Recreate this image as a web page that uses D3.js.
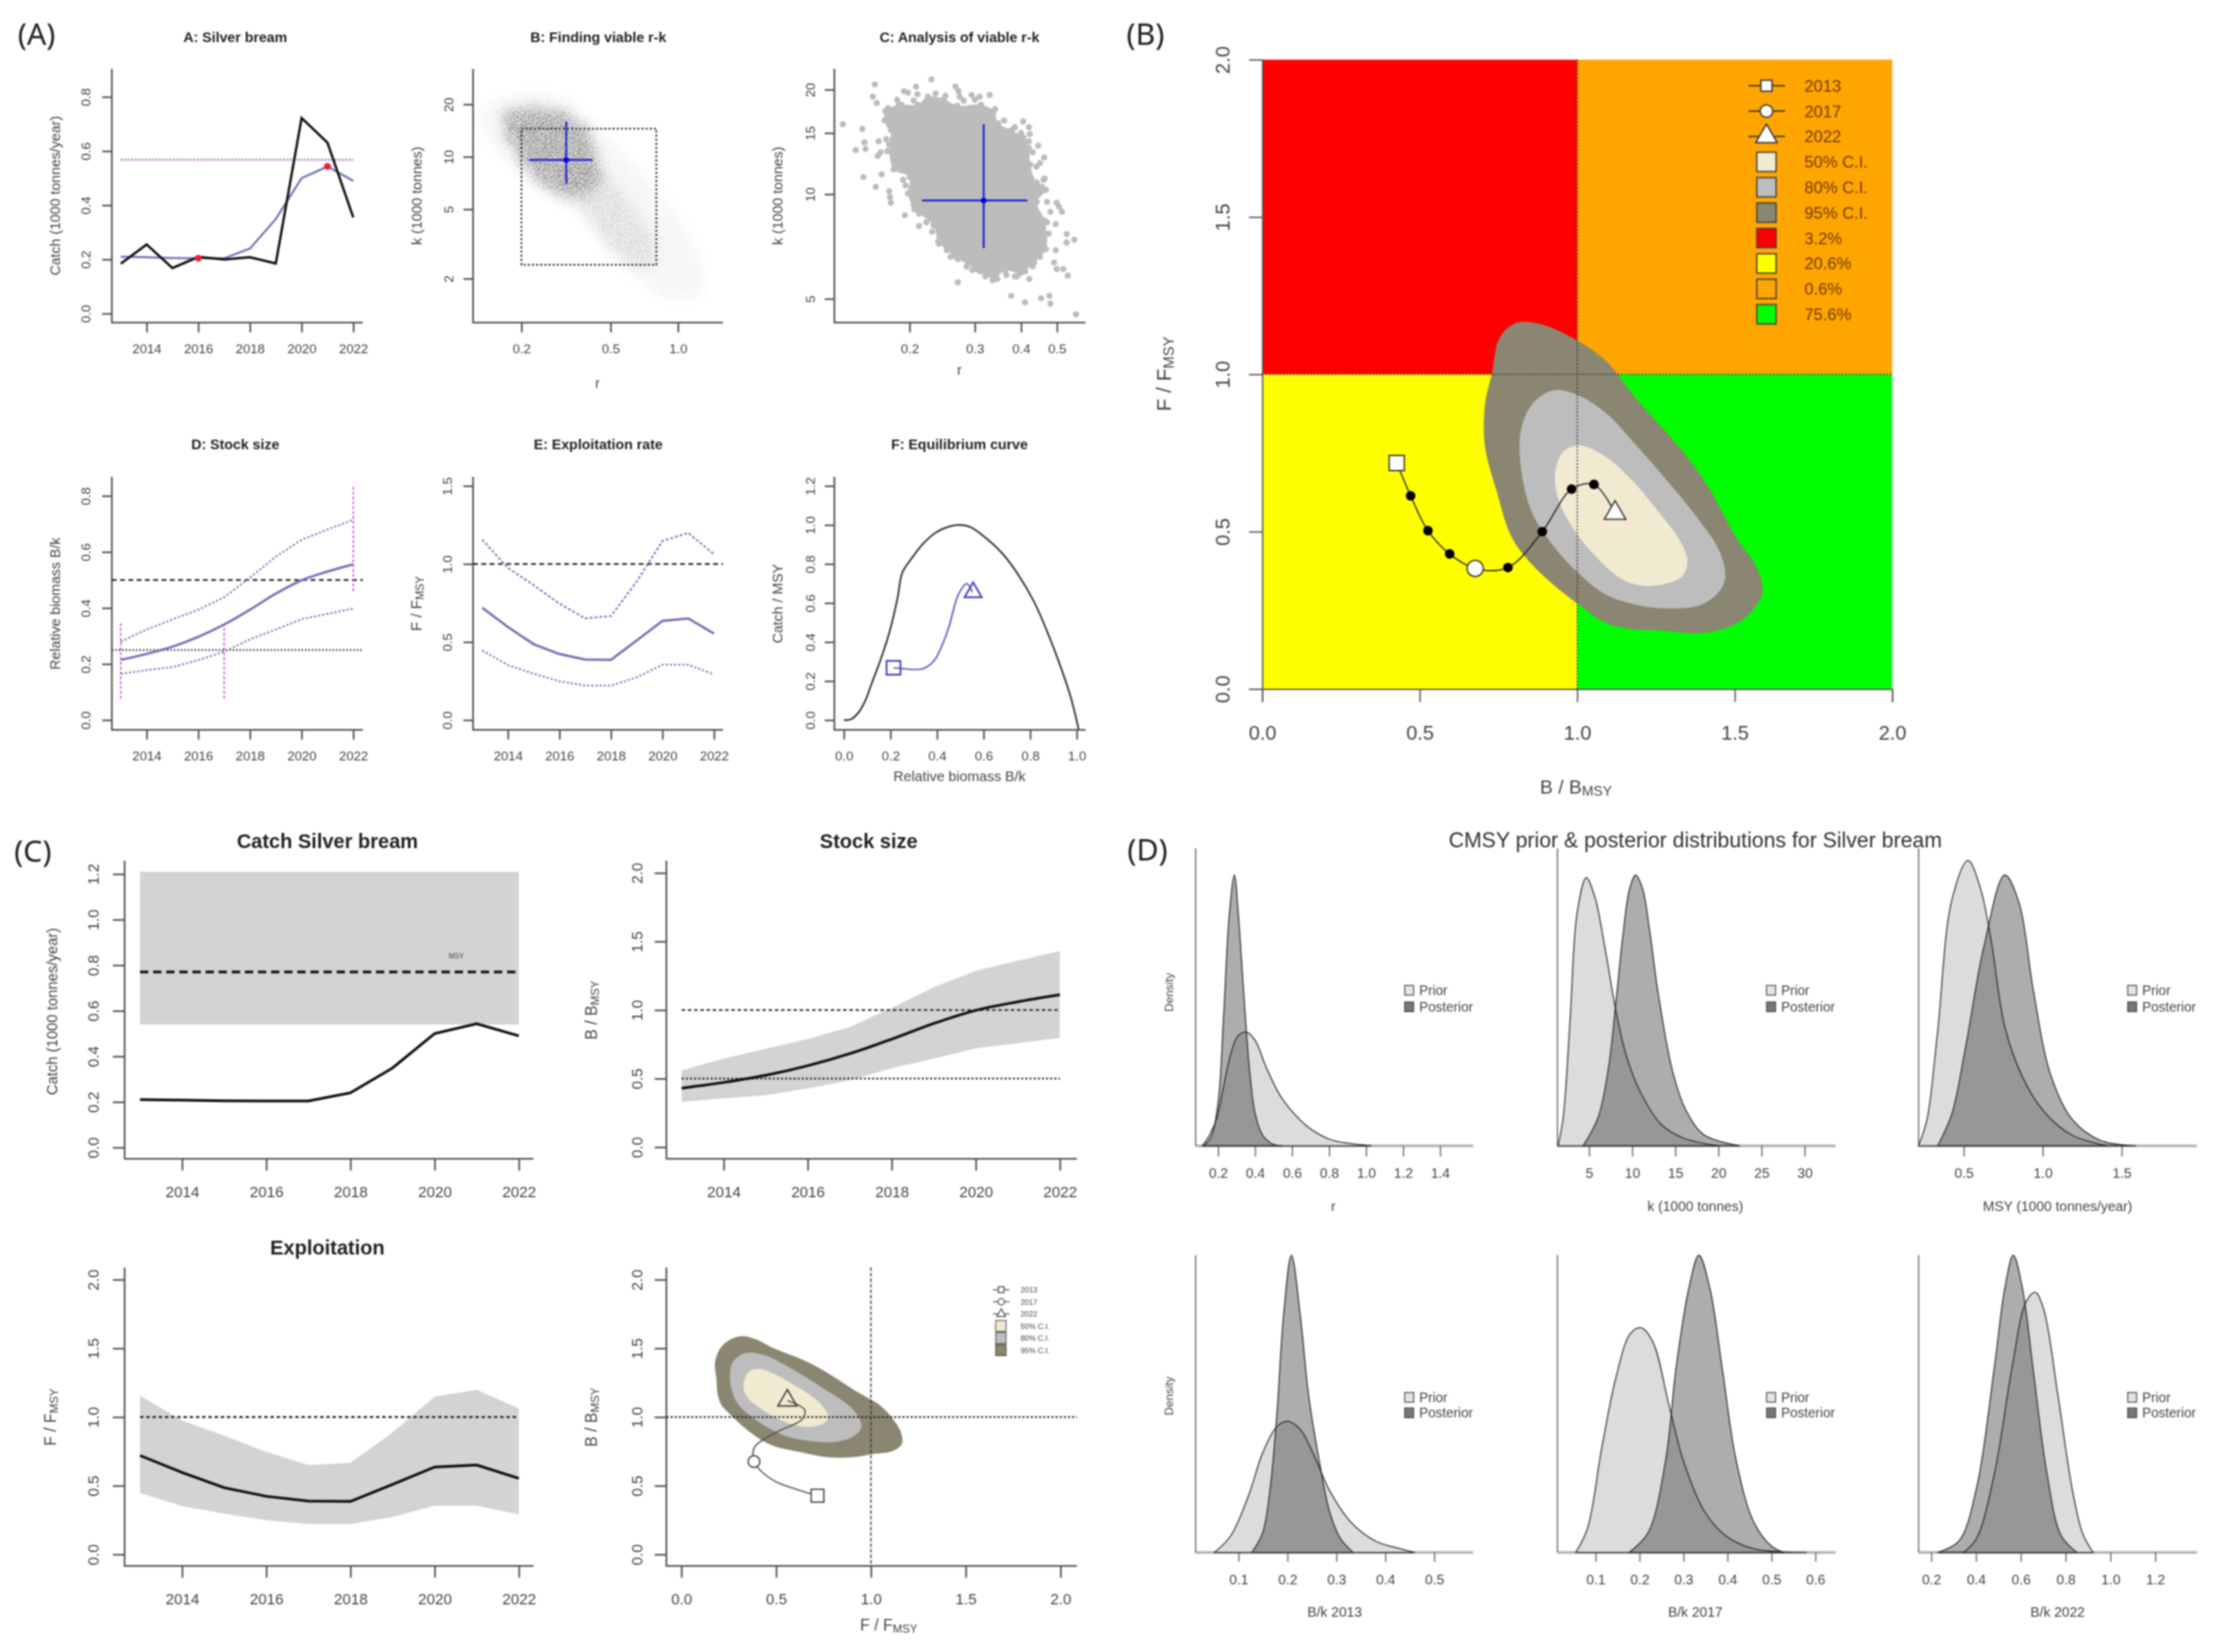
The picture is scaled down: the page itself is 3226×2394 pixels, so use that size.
<!DOCTYPE html>
<meta charset="utf-8">
<style>
	html, body { margin: 0; background: #fff; }
	svg { display: block; filter: blur(0.9px); }
	text { font-family: "Liberation Sans", Arial, sans-serif; fill: #444; }
	.title { font-weight: bold; fill: #222; }
	.tag { font-family: "Noto Sans", sans-serif; fill: #222; }
</style>
<body>
<script src="https://d3js.org/d3.v7.min.js"></script>
<script>

	// time series
	var years = [2013, 2014, 2015, 2016, 2017, 2018, 2019, 2020, 2021, 2022];
	var yearTicks = [2014, 2016, 2018, 2020, 2022];
	var catchObs = [.184, .255, .168, .209, .2, .208, .185, .722, .631, .355];
	var catchSmooth = [.21, .208, .205, .204, .204, .24, .349, .5, .543, .49];
	var bkMid = [.215, .236, .262, .297, .341, .394, .451, .499, .53, .556];
	var bkHi = [.28, .323, .359, .394, .438, .508, .583, .643, .68, .715];
	var bkLo = [.165, .178, .189, .214, .244, .288, .323, .36, .379, .398];
	var fMid = [.72, .596, .486, .423, .388, .386, .51, .636, .651, .554];
	var fHi = [1.156, .975, .864, .746, .651, .667, .888, 1.148, 1.199, 1.062];
	var fLo = [.446, .352, .297, .249, .221, .221, .273, .355, .355, .292];
	var bBmsyMid = [.43, .472, .524, .594, .682, .788, .902, .998, 1.06, 1.112];
	var bBmsyHi = [.56, .646, .718, .788, .876, 1.016, 1.166, 1.286, 1.36, 1.43];
	var bBmsyLo = [.33, .356, .378, .428, .488, .576, .646, .72, .758, .796];

	var maxCatch = .568, msy = .77, msyLow = .54, msyHigh = 1.21;
	var pinkBars = [[2013, .077, .347], [2017, .077, .34], [2022, .46, .833]];

	// equilibrium curve
	var eqB = [0, .03, .065, .094, .117, .157, .196, .23, .251, .293, .339, .395, .452, .497, .542, .61, .678, .746, .815, .871, .928, .974, 1.008];
	var eqC = [0, .004, .042, .105, .18, .307, .452, .623, .756, .832, .902, .961, .992, 1, .99, .933, .857, .75, .61, .459, .282, .118, -.047];
	var trajBk = [.213, .247, .304, .344, .389, .446, .491, .528, .552];
	var trajC = [.268, .265, .259, .265, .307, .459, .642, .699, .655];

	// Kobe trajectory and the confidence contours
	var kobeB = [.427, .471, .526, .595, .676, .78, .889, .982, 1.053, 1.12];
	var kobeF = [.718, .614, .503, .429, .383, .386, .5, .635, .65, .559];
	var ci95B = [.805, .889, .997, 1.09, 1.19, 1.308, 1.408, 1.509, 1.567, 1.588, 1.551, 1.492, 1.392, 1.274, 1.174, 1.09, 1.006, .922, .838, .788, .746, .707, .707, .729, .754];
	var ci95F = [1.163, 1.158, 1.109, 1.043, .919, .787, .655, .474, .391, .309, .243, .201, .177, .185, .19, .21, .267, .333, .416, .49, .622, .771, .903, 1.002, 1.117];
	var ci80B = [.922, .997, 1.09, 1.19, 1.291, 1.391, 1.45, 1.47, 1.45, 1.391, 1.291, 1.19, 1.09, 1.006, .922, .855, .821, .821, .855];
	var ci80F = [.949, .936, .878, .771, .655, .531, .441, .358, .309, .267, .256, .267, .3, .366, .457, .564, .705, .82, .903];
	var ci50B = [1.006, 1.09, 1.174, 1.257, 1.324, 1.35, 1.333, 1.274, 1.207, 1.14, 1.056, .989, .939, .93, .956];
	var ci50F = [.774, .738, .663, .564, .474, .408, .358, .333, .328, .35, .424, .507, .606, .688, .754];
	var kobeFills = ["#ff0000", "#ffa500", "#ffff00", "#00ff00"];
	var ciFills = ["#f2ead0", "#bdbdbd", "#8b8671"];
	var kobeLegend = ["2013", "2017", "2022", "50% C.I.", "80% C.I.", "95% C.I.", "3.2%", "20.6%", "0.6%", "75.6%"];
	var legendFills = ["#f2ead0", "#bdbdbd", "#8b8671", "#ff0000", "#ffff00", "#ffa500", "#00ff00"];

	// r-k cloud outline and the stray points around it
	var cloudR = [.172, .187, .21, .224, .247, .269, .312, .338, .347, .377, .406, .42, .423, .441, .467, .441, .463, .467, .434, .399, .362, .338, .302, .264, .239, .232, .206, .198, .2, .181, .176, .178, .171];
	var cloudK = [17.35, 18.1, 18.1, 19.1, 18.8, 18, 18.1, 17.35, 16, 15.3, 14.55, 13.6, 12.2, 10.8, 10.3, 9.5, 8.4, 6.95, 6.36, 5.93, 6.03, 5.72, 6.09, 6.65, 7.32, 8.14, 9.05, 10.05, 11.2, 11.8, 13.9, 15.3, 16.3];
	var strayR = [.132, .149, .143, .151, .152, .15, .162, .161, .159, .163, .165, .164, .167, .174, .168, .176, .177, .178, .194, .212, .229, .208, .21, .193, .198, .185, .266, .271, .273, .294, .309, .329, .405, .42, .422, .445, .462, .45, .463, .499, .507, .516, .496, .496, .491, .499, .52, .535, .531, .531, .557, .421, .385, .27, .376, .41, .453, .477, .48, .563];
	var strayK = [15.9, 15.4, 13.4, 14.1, 13.5, 11.2, 10.5, 20.7, 19.1, 18.3, 14.2, 12.9, 13.2, 13.3, 11.4, 10.2, 9.8, 9.45, 8.7, 8.1, 21.4, 20.4, 19.4, 19.8, 19.6, 18.7, 20.4, 19.8, 19.1, 19.3, 19.1, 19.3, 16.2, 15.6, 14.9, 13.8, 12.75, 12.3, 11.1, 9.45, 9.2, 8.9, 8.2, 6.9, 6.36, 6.09, 6.09, 5.83, 7.68, 7.26, 7.4, 5.7, 5.8, 5.58, 5.1, 4.88, 5.02, 5.1, 4.84, 4.51];
	var edgeR = [.176, .182, .173, .18, .187, .19, .192, .195, .2, .205, .212, .222, .23, .24, .252, .258, .27, .285, .295, .31, .32, .335, .345, .365, .39, .41, .43, .45, .46, .475, .47, .48, .47, .455, .46, .44, .43, .42, .4, .385, .36, .34, .3, .28, .25, .235, .205, .19, .175];
	var edgeK = [15.8, 14.8, 14.4, 13.2, 12.6, 12.1, 11, 10.6, 10.1, 9.3, 8.8, 8.3, 7.8, 7.2, 6.9, 6.6, 6.5, 6.2, 6.05, 6, 5.8, 5.65, 5.7, 5.85, 5.8, 6, 6.2, 6.6, 7.2, 7.7, 8.3, 8.9, 9.5, 10.5, 11, 12, 13.2, 14.2, 15, 15.6, 16.3, 17.6, 18.7, 18.6, 19.2, 19.5, 18.6, 18.1, 17.7];
	var faintR = [.13, .17, .3, .45, .7, 1, 1.3, 1.25, .85, .6, .42, .28, .2, .15];
	var faintK = [17, 22, 22, 14, 8, 4.5, 2.2, 1.6, 1.6, 2.3, 4, 6, 8, 12];
	var midR = [.35, .45, .6, .8, .72, .52, .4, .32];
	var midK = [9, 8.5, 5.5, 3, 2.3, 2.8, 4.5, 6.5];
	var viable = {rMin: .2, rMax: .8, kMin: 2.4, kMax: 14.5};
	var best = {r: .317, rLo: .216, rHi: .416, k: 9.6, kLo: 7, kHi: 15.9};

	// prior & posterior densities, heights relative to the tallest posterior
	var rPriorX = [.116, .154, .192, .23, .269, .307, .353, .4, .46, .536, .613, .689, .804, .918, 1.03];
	var rPriorH = [0, .04, .1, .22, .34, .405, .42, .39, .29, .185, .117, .068, .024, .008, 0];
	var rPostX = [.12, .16, .2, .23, .26, .288, .31, .34, .37, .4, .44, .5, .55];
	var rPostH = [0, .03, .16, .48, .85, 1, .85, .55, .28, .12, .04, .005, 0];
	var kPriorX = [1.4, 2, 2.8, 3.6, 4.67, 5.66, 6.9, 8.1, 9.34, 11, 13.4, 15.9, 20];
	var kPriorH = [0, .107, .468, .858, .99, .92, .72, .5, .33, .195, .078, .029, 0];
	var kPostX = [4.3, 6.07, 7.3, 8.1, 8.93, 9.7, 10.4, 11.2, 12, 13, 14.7, 16.3, 18.4, 22.5];
	var kPostH = [0, .107, .3, .527, .78, .95, 1, .95, .8, .566, .273, .127, .039, 0];
	var msyPriorX = [.213, .267, .334, .424, .527, .603, .67, .76, .872, 1.007, 1.186, 1.41];
	var msyPriorH = [0, .098, .42, .907, 1.054, .956, .77, .439, .254, .127, .039, 0];
	var msyPostX = [.334, .424, .513, .626, .76, .85, .94, 1.05, 1.186, 1.365, 1.59];
	var msyPostH = [0, .117, .37, .732, 1, .898, .576, .263, .098, .02, 0];
	var b13PriorX = [.051, .084, .12, .149, .178, .2, .226, .257, .286, .33, .38, .431, .46];
	var b13PriorH = [0, .056, .19, .334, .423, .441, .414, .316, .208, .101, .038, .012, 0];
	var b13PostX = [.127, .149, .164, .178, .192, .208, .226, .243, .265, .286, .308, .334];
	var b13PostH = [0, .065, .208, .459, .799, 1, .799, .53, .307, .137, .047, 0];
	var b17PriorX = [.055, .082, .114, .147, .179, .203, .23, .267, .3, .348, .396, .46, .58];
	var b17PriorH = [0, .083, .352, .593, .736, .756, .709, .495, .307, .137, .056, .012, 0];
	var b17PostX = [.176, .219, .259, .283, .312, .335, .36, .388, .42, .46, .5, .528];
	var b17PostH = [0, .065, .307, .62, .888, 1, .888, .62, .307, .101, .021, 0];
	var b22PriorX = [.345, .402, .481, .56, .623, .664, .702, .765, .828, .875, .922];
	var b22PriorH = [0, .047, .262, .62, .843, .875, .817, .53, .217, .065, 0];
	var b22PostX = [.228, .323, .402, .481, .528, .566, .607, .654, .717, .78, .85];
	var b22PostH = [0, .038, .217, .62, .888, 1, .888, .62, .262, .056, 0];

	var purple = "#7a70b8", axisCol = "#555", f1 = d3.format(".1f");

	var svg = d3.select("body").append("svg")
		.attr("width", 3226)
		.attr("height", 2394);

	var defs = svg.append("defs");
	var grain = defs.append("filter").attr("id", "grain")
		.attr("x", "-20%").attr("y", "-20%").attr("width", "140%").attr("height", "140%");
	grain.append("feGaussianBlur").attr("in", "SourceGraphic").attr("stdDeviation", 9).attr("result", "b");
	grain.append("feTurbulence").attr("type", "fractalNoise").attr("baseFrequency", .7).attr("numOctaves", 2).attr("result", "n");
	grain.append("feColorMatrix").attr("in", "n").attr("type", "matrix")
		.attr("values", "0 0 0 0 0  0 0 0 0 0  0 0 0 0 0  0 0 0 6 -2.4").attr("result", "t");
	grain.append("feComposite").attr("in", "b").attr("in2", "t").attr("operator", "in");

	svg.append("rect").attr("width", 3226).attr("height", 2394).attr("fill", "#fff");

	function zip(a, b) { return a.map(function(d, i) { return [d, b[i]]; }); }

	function label(text, x, y, size, rotate, cls) {
		var t = svg.append("text")
			.attr("text-anchor", "middle")
			.attr("dominant-baseline", "central")
			.attr("font-size", size)
			.attr("transform", "translate(" + x + "," + y + ")" + (rotate ? " rotate(-90)" : ""))
			.attr("class", cls || null);
		// "F/F_MSY" style labels pass [main, subscript]
		if (typeof text === "string") t.text(text);
		else {
			t.append("tspan").text(text[0]);
			t.append("tspan").attr("font-size", size * .72).attr("dy", size * .22).text(text[1]);
		}
		return t;
	}

	// R style "l" box with rotated y tick labels
	function axes(box, x, y, xTicks, yTicks, o) {
		var gx = svg.append("g")
			.attr("transform", "translate(0," + box.bottom + ")")
			.call(d3.axisBottom(x).tickValues(xTicks).tickSize(o.tick).tickFormat(o.xf));
		var gy = svg.append("g")
			.attr("transform", "translate(" + box.left + ",0)")
			.call(d3.axisLeft(y).tickValues(yTicks).tickSize(o.tick).tickFormat(o.yf));
		gx.select(".domain").remove();
		gy.select(".domain").remove();
		[gx, gy].forEach(function(g) {
			g.selectAll("line").attr("stroke", axisCol).attr("stroke-width", o.width || 2.5);
			g.selectAll("text").attr("font-size", o.font).attr("dy", 0).attr("dominant-baseline", "central").attr("fill", "#444");
		});
		gx.selectAll("text").attr("y", o.xGap);
		gy.selectAll("text").attr("x", 0).attr("text-anchor", "middle")
			.attr("transform", "translate(" + (-o.yGap) + ",0) rotate(-90)");
		svg.append("path")
			.attr("d", "M" + box.left + "," + box.top + "V" + box.bottom + "H" + box.right)
			.attr("fill", "none").attr("stroke", axisCol).attr("stroke-width", o.width || 2.5);
	}

	function curve(xs, ys, x, y, col, w, dash, gen) {
		return svg.append("path")
			.attr("d", d3.line().x(function(d) { return x(d[0]); }).y(function(d) { return y(d[1]); })
				.curve(gen || d3.curveLinear)(zip(xs, ys)))
			.attr("fill", "none")
			.attr("stroke", col)
			.attr("stroke-width", w)
			.attr("stroke-dasharray", dash || null);
	}

	function hline(v, box, y, col, w, dash) {
		svg.append("line").attr("x1", box.left).attr("x2", box.right).attr("y1", y(v)).attr("y2", y(v))
			.attr("stroke", col).attr("stroke-width", w).attr("stroke-dasharray", dash);
	}

	function band(hi, lo, x, y, col) {
		svg.append("path")
			.attr("d", d3.area().x(function(d, i) { return x(years[i]); })
				.y0(function(d, i) { return y(lo[i]); }).y1(function(d) { return y(d); })(hi))
			.attr("fill", col);
	}

	function marker(type, px, py, area, fill, stroke, w) {
		svg.append("path")
			.attr("d", d3.symbol().type(type).size(area)())
			.attr("transform", "translate(" + px + "," + py + ")")
			.attr("fill", fill).attr("stroke", stroke).attr("stroke-width", w);
	}

	function blob(xs, ys, x, y, fill) {
		return svg.append("path")
			.attr("d", d3.line().x(function(d) { return x(d[0]); }).y(function(d) { return y(d[1]); })
				.curve(d3.curveCatmullRomClosed.alpha(.5))(zip(xs, ys)))
			.attr("fill", fill);
	}

	/* ---------- (A) six small panels ---------- */
	var colLeft = [162.1, 685.6, 1209.2], colRight = [525.9, 1047.8, 1573.3];
	var rowA = {top: 99.8, bottom: 467.6}, rowB = {top: 691, bottom: 1057.7};
	var smallOpts = {tick: 14, font: 19, xGap: 37.5, yGap: 37.5, xf: d3.format("d"), yf: f1};

	function boxOf(c, row) { return {left: colLeft[c], right: colRight[c], top: row.top, bottom: row.bottom}; }

	label("(A)", 53, 48, 44, false, "tag");
	label("(B)", 1660, 48, 44, false, "tag");
	label("(C)", 47.5, 1232, 44, false, "tag");
	label("(D)", 1663, 1230, 44, false, "tag");

	// A: catch
	var boxA = boxOf(0, rowA);
	var xA = d3.scaleLinear().domain([2014, 2022]).range([212.5, 512]);
	var yA = d3.scaleLinear().domain([0, .8]).range([454.4, 140.4]);
	label("A: Silver bream", 341, 53.4, 20.5, false, "title");
	axes(boxA, xA, yA, yearTicks, [0, .2, .4, .6, .8], smallOpts);
	label("Catch (1000 tonnes/year)", 79, 283.7, 20.5, true);
	svg.append("line").attr("x1", xA(2013)).attr("x2", xA(2022)).attr("y1", yA(maxCatch)).attr("y2", yA(maxCatch))
		.attr("stroke", "#c78fd0").attr("stroke-width", 3.5).attr("stroke-dasharray", "3 2");
	curve(years, catchSmooth, xA, yA, purple, 3);
	curve(years, catchObs, xA, yA, "#111", 3.5);
	[3, 8].forEach(function(i) {
		svg.append("circle").attr("cx", xA(years[i])).attr("cy", yA(catchSmooth[i])).attr("r", 5).attr("fill", "#f0203a");
	});

	// B: finding viable r-k
	var boxB = boxOf(1, rowA);
	var xB = d3.scaleLog().domain([.2, 1]).range([755.7, 982.6]);
	var yB = d3.scaleLog().domain([2, 20]).range([403.8, 151.2]);
	label("B: Finding viable r-k", 867, 53.4, 20.5, false, "title");
	blob(faintR, faintK, xB, yB, "#e6e6e6").attr("filter", "url(#grain)").attr("opacity", .6);
	blob(midR, midK, xB, yB, "#c8c8c8").attr("filter", "url(#grain)").attr("opacity", .75);
	blob(cloudR.map(function(d) { return d * .96; }), cloudK.map(function(d) { return d * 1.02; }), xB, yB, "#848484")
		.attr("filter", "url(#grain)");
	axes(boxB, xB, yB, [.2, .5, 1], [2, 5, 10, 20],
		{tick: 14, font: 19, xGap: 37.5, yGap: 35, xf: f1, yf: d3.format("d")});
	label("k (1000 tonnes)", 603, 283.7, 20.5, true);
	label("r", 866, 554.5, 20.5);
	svg.append("rect")
		.attr("x", xB(viable.rMin)).attr("y", yB(viable.kMax))
		.attr("width", xB(viable.rMax) - xB(viable.rMin)).attr("height", yB(viable.kMin) - yB(viable.kMax))
		.attr("fill", "none").attr("stroke", "#333").attr("stroke-width", 2.5).attr("stroke-dasharray", "3 3");

	function cross(x, y, w, r) {
		svg.append("line").attr("x1", x(best.rLo)).attr("x2", x(best.rHi)).attr("y1", y(best.k)).attr("y2", y(best.k))
			.attr("stroke", "#2a2ad0").attr("stroke-width", w);
		svg.append("line").attr("x1", x(best.r)).attr("x2", x(best.r)).attr("y1", y(best.kLo)).attr("y2", y(best.kHi))
			.attr("stroke", "#2a2ad0").attr("stroke-width", w);
		svg.append("circle").attr("cx", x(best.r)).attr("cy", y(best.k)).attr("r", r).attr("fill", "#0000e0");
	}
	cross(xB, yB, 3, 4);

	// C: analysis of viable r-k
	var boxC = boxOf(2, rowA);
	var xC = d3.scaleLog().domain([.2, .5]).range([1318.3, 1531.8]);
	var yC = d3.scaleLog().domain([5, 20]).range([433, 129.9]);
	label("C: Analysis of viable r-k", 1390.5, 53.4, 20.5, false, "title");
	blob(cloudR, cloudK, xC, yC, "#bcbcbc");
	svg.append("g").selectAll("circle")
		.data(zip(cloudR.concat(strayR, edgeR), cloudK.concat(strayK, edgeK)))
		.enter().append("circle")
		.attr("cx", function(d) { return xC(d[0]); })
		.attr("cy", function(d) { return yC(d[1]); })
		.attr("r", 4.5)
		.attr("fill", "#bcbcbc");
	axes(boxC, xC, yC, [.2, .3, .4, .5], [5, 10, 15, 20],
		{tick: 14, font: 19, xGap: 37.5, yGap: 35, xf: f1, yf: d3.format("d")});
	label("k (1000 tonnes)", 1126.5, 283.7, 20.5, true);
	label("r", 1390.5, 535.8, 20.5);
	cross(xC, yC, 3, 4);

	// D: stock size
	var boxD = boxOf(0, rowB);
	var yD = d3.scaleLinear().domain([0, .8]).range([1043.5, 718.6]);
	label("D: Stock size", 341, 643.5, 20.5, false, "title");
	axes(boxD, xA, yD, yearTicks, [0, .2, .4, .6, .8], smallOpts);
	label("Relative biomass B/k", 79, 874.8, 20.5, true);
	hline(.5, boxD, yD, "#222", 2.5, "7 5");
	hline(.25, boxD, yD, "#222", 2.5, "2 3");
	curve(years, bkHi, xA, yD, purple, 2.5, "3 3");
	curve(years, bkLo, xA, yD, purple, 2.5, "3 3");
	curve(years, bkMid, xA, yD, purple, 3.5, null, d3.curveCatmullRom);
	pinkBars.forEach(function(b) {
		svg.append("line").attr("x1", xA(b[0])).attr("x2", xA(b[0])).attr("y1", yD(b[1])).attr("y2", yD(b[2]))
			.attr("stroke", "#c040c8").attr("stroke-width", 1.8).attr("stroke-dasharray", "4 3");
	});

	// E: exploitation rate
	var boxE = boxOf(1, rowB);
	var xE = d3.scaleLinear().domain([2014, 2022]).range([736.1, 1034.8]);
	var yE = d3.scaleLinear().domain([0, 1.5]).range([1043.5, 704.2]);
	label("E: Exploitation rate", 867, 643.5, 20.5, false, "title");
	axes(boxE, xE, yE, yearTicks, [0, .5, 1, 1.5], smallOpts);
	label(["F / F", "MSY"], 603, 874.8, 22, true);
	hline(1, boxE, yE, "#222", 2.5, "7 5");
	curve(years, fHi, xE, yE, purple, 2.5, "4 3");
	curve(years, fLo, xE, yE, purple, 2.5, "3 3");
	curve(years, fMid, xE, yE, purple, 3.5);

	// F: equilibrium curve
	var boxF = boxOf(2, rowB);
	var xF = d3.scaleLinear().domain([0, 1]).range([1223, 1560.5]);
	var yF = d3.scaleLinear().domain([0, 1.2]).range([1043.5, 704.2]);
	label("F: Equilibrium curve", 1390.5, 643.5, 20.5, false, "title");
	axes(boxF, xF, yF, [0, .2, .4, .6, .8, 1], [0, .2, .4, .6, .8, 1, 1.2], {tick: 14, font: 19, xGap: 37.5, yGap: 35, xf: f1, yf: f1});
	label("Catch / MSY", 1126.5, 874.8, 20.5, true);
	label("Relative biomass B/k", 1390.5, 1124.9, 20.5);
	curve(eqB, eqC, xF, yF, "#333", 2.5, null, d3.curveCatmullRom);
	curve(trajBk, trajC, xF, yF, "#5b55c0", 2.2, null, d3.curveCatmullRom);
	marker(d3.symbolSquare, xF(trajBk[0]), yF(trajC[0]), 400, "none", "#3d3dc0", 2.5);
	marker(d3.symbolTriangle, xF(trajBk[8]) + 1, yF(trajC[8]), 270, "none", "#3d3dc0", 2.5);

	/* ---------- (B) Kobe plot ---------- */
	var boxK = {left: 1829.3, right: 2742.3, top: 86.5, bottom: 998.4};
	var xK = d3.scaleLinear().domain([0, 2]).range([boxK.left, boxK.right]);
	var yK = d3.scaleLinear().domain([0, 2]).range([boxK.bottom, boxK.top]);

	svg.append("g").selectAll("rect")
		.data(kobeFills)
		.enter().append("rect")
		.attr("x", function(d, i) { return xK(i % 2); })
		.attr("y", function(d, i) { return yK(2 - (i >> 1)); })
		.attr("width", xK(1) - xK(0))
		.attr("height", yK(1) - yK(2))
		.attr("fill", function(d) { return d; });

	[2, 1, 0].forEach(function(i) {
		blob([ci50B, ci80B, ci95B][i], [ci50F, ci80F, ci95F][i], xK, yK, ciFills[i]);
	});

	var kobeAxes = d3.axisBottom(xK).tickValues([0, .5, 1, 1.5, 2]).tickSize(19).tickFormat(f1);
	var gKx = svg.append("g").attr("transform", "translate(0," + boxK.bottom + ")").call(kobeAxes);
	var gKy = svg.append("g").attr("transform", "translate(" + boxK.left + ",0)")
		.call(d3.axisLeft(yK).tickValues([0, .5, 1, 1.5, 2]).tickSize(19).tickFormat(f1));
	[gKx, gKy].forEach(function(g) {
		g.select(".domain").attr("stroke", "#555").attr("stroke-width", 2);
		g.selectAll("line").attr("stroke", "#555").attr("stroke-width", 2);
		g.selectAll("text").attr("font-size", 29).attr("dy", 0).attr("dominant-baseline", "central").attr("fill", "#333");
	});
	gKx.selectAll("text").attr("y", 64);
	gKy.selectAll("text").attr("x", 0).attr("text-anchor", "middle").attr("transform", "translate(-57,0) rotate(-90)");
	label(["B / B", "MSY"], 2284, 1139.7, 28);
	label(["F / F", "MSY"], 1686, 541.7, 30, true);
	hline(1, boxK, yK, "#333", 2, "2 3");
	svg.append("line").attr("x1", xK(1)).attr("x2", xK(1)).attr("y1", yK(0)).attr("y2", yK(2))
		.attr("stroke", "#333").attr("stroke-width", 2).attr("stroke-dasharray", "2 3");

	curve(kobeB, kobeF, xK, yK, "#222", 1.8, null, d3.curveCatmullRom);
	svg.append("g").selectAll("circle")
		.data(zip(kobeB, kobeF))
		.enter().append("circle")
		.attr("cx", function(d) { return xK(d[0]); })
		.attr("cy", function(d) { return yK(d[1]); })
		.attr("r", 7)
		.attr("fill", "#000");
	marker(d3.symbolSquare, xK(kobeB[0]), yK(kobeF[0]), 480, "#fff", "#333", 2);
	marker(d3.symbolCircle, xK(kobeB[4]), yK(kobeF[4]), 430, "#fff", "#333", 2);
	marker(d3.symbolTriangle, xK(kobeB[9]), yK(kobeF[9]), 420, "#fff", "#333", 2);

	kobeLegend.forEach(function(t, i) {
		var ly = 124.2 + 36.8 * i;
		if (i < 3) {
			svg.append("line").attr("x1", 2534).attr("x2", 2587).attr("y1", ly).attr("y2", ly).attr("stroke", "#333").attr("stroke-width", 2);
			marker([d3.symbolSquare, d3.symbolCircle, d3.symbolTriangle][i], 2560, ly, [260, 260, 420][i], "#fff", "#333", 2);
		} else {
			svg.append("rect").attr("x", 2546).attr("y", ly - 14).attr("width", 28).attr("height", 28)
				.attr("fill", legendFills[i - 3]).attr("stroke", "#444").attr("stroke-width", 2);
		}
		svg.append("text").attr("x", 2615).attr("y", ly).attr("dominant-baseline", "central")
			.attr("font-size", 24).style("fill", "#6e3c00").text(t);
	});

	/* ---------- (C) four panels ---------- */
	var rowC1 = {top: 1247.3, bottom: 1679.3}, rowC2 = {top: 1836.8, bottom: 2269.3};
	var bigOpts = {tick: 17, font: 22, xGap: 48.4, yGap: 45, xf: d3.format("d"), yf: f1};
	var bigOpts2 = {tick: 17, font: 22, xGap: 48.4, yGap: 42.5, xf: d3.format("d"), yf: f1};
	var xC1 = d3.scaleLinear().domain([2014, 2022]).range([263.9, 751.9]);
	var xC2 = d3.scaleLinear().domain([2014, 2022]).range([1048.8, 1536]);

	// catch
	var box1 = {left: 180.6, right: 773, top: rowC1.top, bottom: rowC1.bottom};
	var y1 = d3.scaleLinear().domain([0, 1.2]).range([1662.9, 1266.6]);
	label("Catch Silver bream", 474.5, 1218.7, 29, false, "title");
	svg.append("rect").attr("x", xC1(2013)).attr("width", xC1(2022) - xC1(2013))
		.attr("y", y1(msyHigh)).attr("height", y1(msyLow) - y1(msyHigh)).attr("fill", "#d3d3d3");
	axes(box1, xC1, y1, yearTicks, [0, .2, .4, .6, .8, 1, 1.2], bigOpts);
	label("Catch (1000 tonnes/year)", 76, 1465.8, 21.5, true);
	svg.append("line").attr("x1", xC1(2013)).attr("x2", xC1(2022)).attr("y1", y1(msy)).attr("y2", y1(msy))
		.attr("stroke", "#111").attr("stroke-width", 4).attr("stroke-dasharray", "12 7");
	label("MSY", 661.3, 1385.7, 10);
	curve(years, catchSmooth, xC1, y1, "#111", 4);

	// stock size
	var box2 = {left: 965.8, right: 1560.8, top: rowC1.top, bottom: rowC1.bottom};
	var y2 = d3.scaleLinear().domain([0, 2]).range([1662.4, 1265]);
	label("Stock size", 1259, 1218.7, 29, false, "title");
	band(bBmsyHi, bBmsyLo, xC2, y2, "#d3d3d3");
	axes(box2, xC2, y2, yearTicks, [0, .5, 1, 1.5, 2], bigOpts2);
	label(["B / B", "MSY"], 857, 1463.8, 23, true);
	svg.append("line").attr("x1", xC2(2013)).attr("x2", xC2(2022)).attr("y1", y2(1)).attr("y2", y2(1))
		.attr("stroke", "#333").attr("stroke-width", 2.5).attr("stroke-dasharray", "5 4");
	svg.append("line").attr("x1", xC2(2013)).attr("x2", xC2(2022)).attr("y1", y2(.5)).attr("y2", y2(.5))
		.attr("stroke", "#222").attr("stroke-width", 2.5).attr("stroke-dasharray", "3 3");
	curve(years, bBmsyMid, xC2, y2, "#111", 4, null, d3.curveCatmullRom);

	// exploitation
	var box3 = {left: 180.6, right: 773, top: rowC2.top, bottom: rowC2.bottom};
	var y3 = d3.scaleLinear().domain([0, 2]).range([2252.6, 1854.4]);
	label("Exploitation", 474.5, 1808.2, 29, false, "title");
	band(fHi, fLo, xC1, y3, "#d3d3d3");
	axes(box3, xC1, y3, yearTicks, [0, .5, 1, 1.5, 2], bigOpts);
	label(["F / F", "MSY"], 73, 2053.8, 23, true);
	svg.append("line").attr("x1", xC1(2013)).attr("x2", xC1(2022)).attr("y1", y3(1)).attr("y2", y3(1))
		.attr("stroke", "#333").attr("stroke-width", 3).attr("stroke-dasharray", "5 4");
	curve(years, fMid, xC1, y3, "#111", 4);

	// B/Bmsy vs F/Fmsy, same contours with the axes swapped
	var box4 = {left: 965.8, right: 1560.8, top: rowC2.top, bottom: rowC2.bottom};
	var x4 = d3.scaleLinear().domain([0, 2]).range([987.5, 1537]);
	[2, 1, 0].forEach(function(i) {
		blob([ci50F, ci80F, ci95F][i], [ci50B, ci80B, ci95B][i], x4, y3, ciFills[i]);
	});
	axes(box4, x4, y3, [0, .5, 1, 1.5, 2], [0, .5, 1, 1.5, 2],
		{tick: 17, font: 22, xGap: 48.4, yGap: 42.5, xf: f1, yf: f1});
	label(["B / B", "MSY"], 857, 2053.8, 23, true);
	label(["F / F", "MSY"], 1288, 2355.3, 23);
	hline(1, box4, y3, "#222", 2.5, "3 3");
	svg.append("line").attr("x1", x4(1)).attr("x2", x4(1)).attr("y1", box4.top).attr("y2", box4.bottom)
		.attr("stroke", "#333").attr("stroke-width", 1.8).attr("stroke-dasharray", "5 3");
	curve(kobeF, kobeB, x4, y3, "#555", 2, null, d3.curveCatmullRom);
	marker(d3.symbolSquare, x4(kobeF[0]), y3(kobeB[0]), 340, "#fff", "#444", 2);
	marker(d3.symbolCircle, x4(kobeF[4]), y3(kobeB[4]), 230, "#fff", "#444", 2);
	marker(d3.symbolTriangle, x4(kobeF[9]), y3(kobeB[9]), 330, "none", "#333", 2);

	kobeLegend.slice(0, 6).forEach(function(t, i) {
		var ly = 1869 + 17.5 * i;
		if (i < 3) {
			svg.append("line").attr("x1", 1439).attr("x2", 1463).attr("y1", ly).attr("y2", ly).attr("stroke", "#555").attr("stroke-width", 1.5);
			marker([d3.symbolSquare, d3.symbolCircle, d3.symbolTriangle][i], 1451, ly, 70, "#fff", "#444", 1.5);
		} else {
			svg.append("rect").attr("x", 1443).attr("y", ly - 8).attr("width", 15).attr("height", 16)
				.attr("fill", ciFills[i - 3]).attr("stroke", "#444").attr("stroke-width", 1.2);
		}
		svg.append("text").attr("x", 1479).attr("y", ly).attr("dominant-baseline", "central").attr("font-size", 11).text(t);
	});

	/* ---------- (D) prior and posterior densities ---------- */
	label("CMSY prior & posterior distributions for Silver bream", 2456.9, 1217.7, 30.8).style("fill", "#333");

	var densityPanels = [
		{name: "r", left: 1732.7, right: 2135, base: 1660.5, top: 1229.5, peak: 392.4, dom: [.2, 1.4], rng: [1765.3, 2087.1], ticks: [.2, .4, .6, .8, 1, 1.2, 1.4], fmt: f1, lx: 1932.4, px: rPriorX, ph: rPriorH, qx: rPostX, qh: rPostH},
		{name: "k (1000 tonnes)", left: 2257.2, right: 2660, base: 1660.5, top: 1229.5, peak: 392.4, dom: [5, 30], rng: [2303, 2615.4], ticks: [5, 10, 15, 20, 25, 30], fmt: d3.format("d"), lx: 2456.9, px: kPriorX, ph: kPriorH, qx: kPostX, qh: kPostH},
		{name: "MSY (1000 tonnes/year)", left: 2780.5, right: 3183.6, base: 1660.5, top: 1229.5, peak: 392.4, dom: [.5, 1.5], rng: [2846, 3074.8], ticks: [.5, 1, 1.5], fmt: f1, lx: 2982, px: msyPriorX, ph: msyPriorH, qx: msyPostX, qh: msyPostH},
		{name: "B/k 2013", left: 1732.7, right: 2135, base: 2249.7, top: 1818.7, peak: 430.7, dom: [.1, .5], rng: [1795, 2078.7], ticks: [.1, .2, .3, .4, .5], fmt: f1, lx: 1934.3, px: b13PriorX, ph: b13PriorH, qx: b13PostX, qh: b13PostH},
		{name: "B/k 2017", left: 2257.2, right: 2660, base: 2249.7, top: 1818.7, peak: 430.7, dom: [.1, .6], rng: [2312.4, 2631], ticks: [.1, .2, .3, .4, .5, .6], fmt: f1, lx: 2456.9, px: b17PriorX, ph: b17PriorH, qx: b17PostX, qh: b17PostH},
		{name: "B/k 2022", left: 2780.5, right: 3183.6, base: 2249.7, top: 1818.7, peak: 430.7, dom: [.2, 1.2], rng: [2798.9, 3123.6], ticks: [.2, .4, .6, .8, 1, 1.2], fmt: f1, lx: 2982, px: b22PriorX, ph: b22PriorH, qx: b22PostX, qh: b22PostH}
	];

	densityPanels.forEach(function(p, n) {
		var lower = p.base > 2000;
		var x = d3.scaleLinear().domain(p.dom).range(p.rng);
		var y = d3.scaleLinear().domain([0, 1]).range([p.base, p.base - p.peak]);
		var area = d3.area().x(function(d) { return x(d[0]); }).y0(p.base).y1(function(d) { return y(d[1]); })
			.curve(d3.curveCatmullRom.alpha(.5));

		svg.append("line").attr("x1", p.left).attr("x2", p.right).attr("y1", p.base).attr("y2", p.base)
			.attr("stroke", "#b5b5b5").attr("stroke-width", 4);
		svg.append("line").attr("x1", p.left).attr("x2", p.left).attr("y1", p.top).attr("y2", p.base)
			.attr("stroke", "#555").attr("stroke-width", 1.6);

		svg.append("path").attr("d", area(zip(p.px, p.ph)))
			.attr("fill", "#dcdcdc").attr("stroke", "#2a2a2a").attr("stroke-width", 1.5);
		svg.append("path").attr("d", area(zip(p.qx, p.qh)))
			.attr("fill", "rgba(33,33,33,.37)").attr("stroke", "#2a2a2a").attr("stroke-width", 1.5);

		var g = svg.append("g").attr("transform", "translate(0," + p.base + ")")
			.call(d3.axisBottom(x).tickValues(p.ticks).tickSize(lower ? 13.5 : 15.5).tickFormat(p.fmt));
		g.select(".domain").remove();
		g.selectAll("line").attr("stroke", "#555").attr("stroke-width", 1.6);
		g.selectAll("text").attr("font-size", 20).attr("dy", 0).attr("y", 39.5).attr("dominant-baseline", "central").attr("fill", "#444");

		label(p.name, p.lx, lower ? 2336.2 : 1747.5, 20);

		// little Prior / Posterior key
		var keyY = lower ? [2025, 2047.4] : [1435, 1459];
		["Prior", "Posterior"].forEach(function(t, i) {
			svg.append("rect").attr("x", p.left + 303).attr("y", keyY[i] - 7).attr("width", 13).attr("height", 14)
				.attr("fill", i ? "#777" : "#e4e4e4").attr("stroke", "#444").attr("stroke-width", 1.4);
			svg.append("text").attr("x", p.left + 324).attr("y", keyY[i]).attr("dominant-baseline", "central")
				.attr("font-size", 19.5).text(t);
		});
		if (n % 3 === 0) label("Density", 1694, lower ? 2023 : 1438, 17, true);
	});

</script>
